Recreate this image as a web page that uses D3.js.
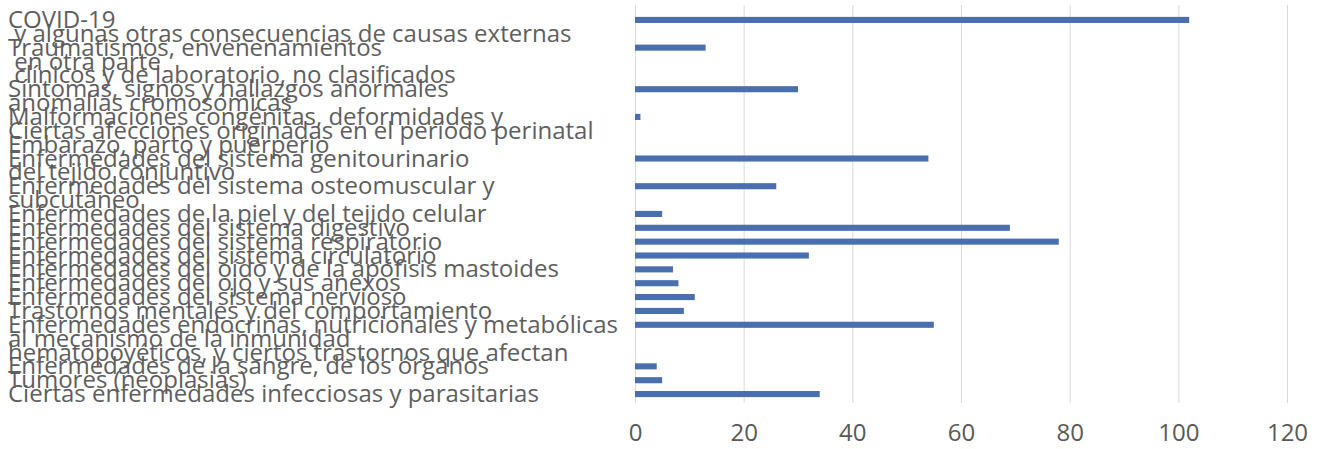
<!DOCTYPE html>
<html>
<head>
<meta charset="utf-8">
<script src="https://cdn.jsdelivr.net/npm/d3@7"></script>
<style>
  html, body { margin: 0; padding: 0; background: #fff; }
  svg { display: block; }
  text { white-space: pre; }
</style>
</head>
<body>
<svg id="chart" width="1320" height="449"></svg>
<script>
// Category label lines, top to bottom (one row per line, as in the source sheet)
const categories = [
  "COVID-19",
  " y algunas otras consecuencias de causas externas",
  "Traumatismos, envenenamientos",
  " en otra parte",
  " clínicos y de laboratorio, no clasificados",
  "Síntomas, signos y hallazgos anormales",
  "anomalías cromosómicas",
  "Malformaciones congénitas, deformidades y",
  "Ciertas afecciones originadas en el período perinatal",
  "Embarazo, parto y puerperio",
  "Enfermedades del sistema genitourinario",
  "del tejido conjuntivo",
  "Enfermedades del sistema osteomuscular y",
  "subcutáneo",
  "Enfermedades de la piel y del tejido celular",
  "Enfermedades del sistema digestivo",
  "Enfermedades del sistema respiratorio",
  "Enfermedades del sistema circulatorio",
  "Enfermedades del oído y de la apófisis mastoides",
  "Enfermedades del ojo y sus anexos",
  "Enfermedades del sistema nervioso",
  "Trastornos mentales y del comportamiento",
  "Enfermedades endocrinas, nutricionales y metabólicas",
  "al mecanismo de la inmunidad",
  "hematopoyéticos, y ciertos trastornos que afectan",
  "Enfermedades de la sangre, de los órganos",
  "Tumores (neoplasias)",
  "Ciertas enfermedades infecciosas y parasitarias"
];
const values = [102, null, 13, null, null, 30, null, 1, 0, 0, 54, null, 26, null, 5, 69, 78, 32, 7, 8, 11, 9, 55, null, null, 4, 5, 34];
const xTicks = [0, 20, 40, 60, 80, 100, 120];

const svg = d3.select("#chart");
const x = d3.scaleLinear().domain([0, 120]).range([635, 1287]);
const y = d3.scaleBand().domain(d3.range(categories.length)).range([13, 401]).paddingInner(0.56).paddingOuter(0.28);

// gridlines
svg.append("g").selectAll("line").data(xTicks).join("line")
  .attr("x1", d => x(d) + 0.5).attr("x2", d => x(d) + 0.5)
  .attr("y1", 5).attr("y2", 403)
  .attr("stroke", "#d9d9d9").attr("stroke-width", 1);

// bars
svg.append("g").selectAll("rect").data(values.map((v, i) => ({v, i})).filter(d => d.v !== null && d.v > 0)).join("rect")
  .attr("x", x(0)).attr("y", d => y(d.i))
  .attr("width", d => x(d.v) - x(0)).attr("height", y.bandwidth())
  .attr("fill", "#4a6fae");

// x axis labels
const xAxis = d3.axisBottom(x).tickValues(xTicks).tickSize(0).tickPadding(0);
const gx = svg.append("g").attr("transform", "translate(0,424)").call(xAxis);
gx.select(".domain").remove();
gx.selectAll("text").attr("font-family", "'Open Sans', sans-serif").attr("font-size", 24).attr("fill", "#595959");

// category labels
svg.append("g").selectAll("text").data(categories).join("text")
  .attr("x", 8)
  .attr("y", (d, i) => y(i) + y.bandwidth() / 2 + 8)
  .attr("font-family", "'Open Sans', sans-serif")
  .attr("font-size", 24)
  .attr("fill", "#5e5e5e")
  .text(d => d);
</script>
</body>
</html>
